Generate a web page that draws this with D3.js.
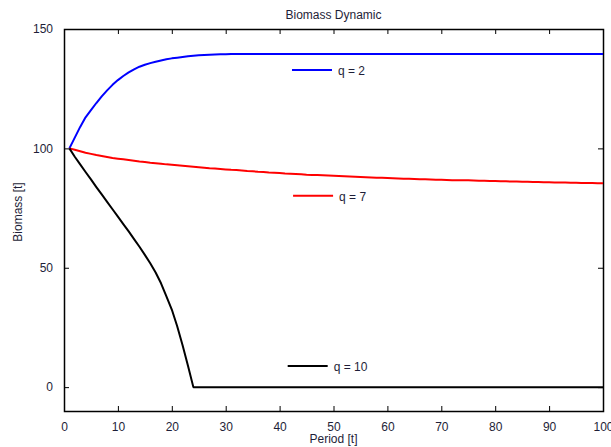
<!DOCTYPE html>
<meta charset="utf-8">
<title>Biomass Dynamic</title>
<style>
  body { margin: 0; background: #fff; font-family: "Liberation Sans", Arial, sans-serif; }
  .axis text { font-size: 12px; fill: #1e1e38; }
  .axis path, .axis line { stroke: #000; }
  .label { font-size: 12px; fill: #1e1e38; }
  path.series { fill: none; stroke-width: 2; stroke-linejoin: round; }
</style>
<body>
<script src="https://cdn.jsdelivr.net/npm/d3@7"></script>
<script>
// periods (t)
var periods = [1,2,3,4,5,6,7,8,9,10,11,12,13,14,15,16,17,18,19,20,
  21,22,23,24,25,26,27,28,29,30,31,32,33,34,35,36,37,38,39,40,
  41,42,43,44,45,46,47,48,49,50,51,52,53,54,55,56,57,58,59,60,
  61,62,63,64,65,66,67,68,69,70,71,72,73,74,75,76,77,78,79,80,
  81,82,83,84,85,86,87,88,89,90,91,92,93,94,95,96,97,98,99,100];

var biomassQ2 = [100,104.5,109,113,116,119,121.8,124.3,126.6,128.6,
  130.3,131.8,133.1,134.2,135,135.7,136.3,136.8,137.3,137.7,
  138,138.3,138.6,138.8,139,139.1,139.2,139.3,139.4,139.4,
  139.5,139.5,139.5,139.5,139.5,139.5,139.5,139.5,139.5,139.5,
  139.5,139.5,139.5,139.5,139.5,139.5,139.5,139.5,139.5,139.5,
  139.5,139.5,139.5,139.5,139.5,139.5,139.5,139.5,139.5,139.5,
  139.5,139.5,139.5,139.5,139.5,139.5,139.5,139.5,139.5,139.5,
  139.5,139.5,139.5,139.5,139.5,139.5,139.5,139.5,139.5,139.5,
  139.5,139.5,139.5,139.5,139.5,139.5,139.5,139.5,139.5,139.5,
  139.5,139.5,139.5,139.5,139.5,139.5,139.5,139.5,139.5,139.5];

var biomassQ7 = [100,99.4,98.8,98.2,97.7,97.2,96.8,96.4,96.0,95.7,
  95.4,95.1,94.8,94.5,94.3,94.0,93.8,93.6,93.3,93.1,
  92.9,92.7,92.5,92.3,92.1,91.9,91.7,91.6,91.4,91.2,
  91.0,90.9,90.7,90.5,90.4,90.2,90.1,89.9,89.8,89.7,
  89.5,89.4,89.3,89.2,89.0,88.9,88.8,88.7,88.6,88.5,
  88.4,88.3,88.2,88.1,88.0,87.9,87.8,87.7,87.7,87.6,
  87.5,87.4,87.3,87.3,87.2,87.1,87.1,87.0,86.9,86.9,
  86.8,86.7,86.7,86.6,86.6,86.5,86.4,86.4,86.3,86.3,
  86.2,86.2,86.1,86.1,86.0,86.0,85.9,85.9,85.8,85.8,
  85.7,85.7,85.7,85.6,85.6,85.5,85.5,85.5,85.4,85.4];

var biomassQ10 = [100,96.5,93.3,90.1,87,83.8,80.7,77.6,74.5,71.4,
  68.3,65.2,62,58.8,55.4,51.9,48,43.5,38,32.5,
  25.5,17.5,9,0,0,0,0,0,0,0,
  0,0,0,0,0,0,0,0,0,0,
  0,0,0,0,0,0,0,0,0,0,
  0,0,0,0,0,0,0,0,0,0,
  0,0,0,0,0,0,0,0,0,0,
  0,0,0,0,0,0,0,0,0,0,
  0,0,0,0,0,0,0,0,0,0,
  0,0,0,0,0,0,0,0,0,0];

var xTicks = [0,10,20,30,40,50,60,70,80,90,100];
var yTicks = [0,50,100,150];

var seriesLabels = ["q = 2", "q = 7", "q = 10"];
var seriesColors = ["#0000ff", "#ff0000", "#000000"];
var seriesValues = [biomassQ2, biomassQ7, biomassQ10];
// label anchors in data units (start of the short legend line)
var labelAt = [[42.3, 132.8], [42.5, 80.2], [41.5, 8.8]];

var W = 611, H = 447;
var margin = {top: 29, right: 8, bottom: 36, left: 64};
var width = W - margin.left - margin.right,
    height = H - margin.top - margin.bottom;

var x = d3.scaleLinear().domain([0, 100]).range([0, width]);
var y = d3.scaleLinear().domain([-10, 150]).range([height, 0]);

var svg = d3.select("body").append("svg")
    .attr("width", W).attr("height", H);

var g = svg.append("g")
    .attr("transform", "translate(" + margin.left + "," + margin.top + ")");

// axes, ticks pointing inward
g.append("g").attr("class", "x axis")
    .attr("transform", "translate(0," + height + ")")
    .call(d3.axisBottom(x).tickValues(xTicks).tickSizeInner(-5).tickSizeOuter(0).tickPadding(11))
    .call(function(s) { s.select(".domain").remove(); });

g.append("g").attr("class", "x axis")
    .call(d3.axisTop(x).tickValues(xTicks).tickSizeInner(-5).tickSizeOuter(0).tickFormat(""))
    .call(function(s) { s.select(".domain").remove(); });

g.append("g").attr("class", "y axis")
    .call(d3.axisLeft(y).tickValues(yTicks).tickSizeInner(-5).tickSizeOuter(0).tickPadding(11))
    .call(function(s) { s.select(".domain").remove(); });

g.append("g").attr("class", "y axis")
    .attr("transform", "translate(" + width + ",0)")
    .call(d3.axisRight(y).tickValues(yTicks).tickSizeInner(-5).tickSizeOuter(0).tickFormat(""))
    .call(function(s) { s.select(".domain").remove(); });

g.append("rect")
    .attr("x", 0.5).attr("y", 0.5)
    .attr("width", width).attr("height", height)
    .attr("fill", "none").attr("stroke", "#000").attr("stroke-width", 1.5);

var line = d3.line()
    .x(function(d) { return x(d[0]); })
    .y(function(d) { return y(d[1]); });

seriesValues.forEach(function(vals, i) {
  g.append("path")
      .attr("class", "series")
      .attr("stroke", seriesColors[i])
      .attr("d", line(periods.map(function(t, k) { return [t, vals[k]]; })));

  var lx = x(labelAt[i][0]), ly = y(labelAt[i][1]);
  g.append("line")
      .attr("x1", lx).attr("x2", lx + 40)
      .attr("y1", ly).attr("y2", ly)
      .attr("stroke", seriesColors[i]).attr("stroke-width", 2);
  g.append("text")
      .attr("class", "label")
      .attr("x", lx + 46).attr("y", ly + 5)
      .text(seriesLabels[i]);
});

svg.append("text")
    .attr("class", "label")
    .attr("x", margin.left + width / 2).attr("y", 19)
    .attr("text-anchor", "middle")
    .text("Biomass Dynamic");

svg.append("text")
    .attr("class", "label")
    .attr("x", margin.left + width / 2).attr("y", 443)
    .attr("text-anchor", "middle")
    .text("Period [t]");

svg.append("text")
    .attr("class", "label")
    .attr("transform", "translate(22," + (margin.top + height / 2 - 8) + ") rotate(-90)")
    .attr("text-anchor", "middle")
    .text("Biomass [t]");
</script>
</body>
</html>
